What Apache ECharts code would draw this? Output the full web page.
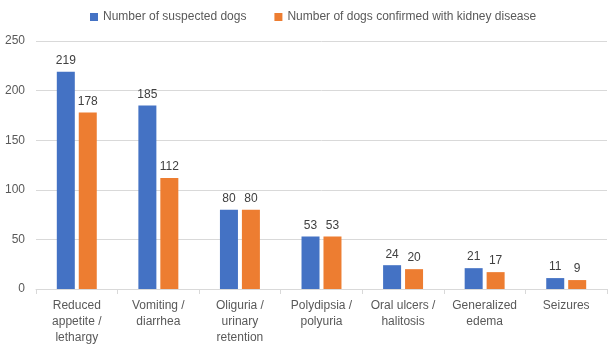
<!DOCTYPE html>
<html>
<head>
<meta charset="utf-8">
<script src="https://cdn.jsdelivr.net/npm/echarts@6/dist/echarts.min.js"></script>
<style>html,body{margin:0;padding:0;background:#fff}#main{width:611px;height:352px}</style>
</head>
<body>
<div id="main"></div>
<script>
// 分类和数据
var categories = ['Reduced\nappetite /\nlethargy', 'Vomiting /\ndiarrhea', 'Oliguria /\nurinary\nretention',
    'Polydipsia /\npolyuria', 'Oral ulcers /\nhalitosis', 'Generalized\nedema', 'Seizures'];
var suspected = [219, 185, 80, 53, 24, 21, 11];
var confirmed = [178, 112, 80, 53, 20, 17, 9];
var yTicks = [0, 50, 100, 150, 200, 250];

var myChart = echarts.init(document.getElementById('main'));
var font = 'Liberation Sans, Arial, sans-serif';
var option = {
    animation: false,
    textStyle: { fontFamily: font },
    legend: {
        top: 6,
        left: 85,
        itemWidth: 8,
        itemHeight: 8,
        itemGap: 28,
        icon: 'rect',
        textStyle: { color: '#595959', fontSize: 12, fontFamily: font },
        data: ['Number of suspected dogs', 'Number of dogs confirmed with kidney disease']
    },
    grid: { left: 36, right: 4, top: 41, bottom: 63, containLabel: false, outerBoundsMode: 'none' },
    xAxis: {
        type: 'category',
        data: categories,
        axisLine: { lineStyle: { color: '#D9D9D9' } },
        axisTick: { show: true, alignWithLabel: false, length: 5, lineStyle: { color: '#D9D9D9' } },
        axisLabel: { color: '#595959', fontSize: 12, lineHeight: 16, margin: 9, interval: 0, fontFamily: font }
    },
    yAxis: {
        type: 'value',
        min: yTicks[0],
        max: yTicks[yTicks.length - 1],
        interval: 50,
        axisLine: { show: false },
        axisTick: { show: false },
        splitLine: { lineStyle: { color: '#D9D9D9' } },
        axisLabel: { color: '#595959', fontSize: 12, margin: 11, fontFamily: font }
    },
    series: [{
        name: 'Number of suspected dogs',
        type: 'bar',
        data: suspected,
        barWidth: 18,
        barGap: '22%',
        itemStyle: { color: '#4472C4' },
        label: { show: true, position: 'top', color: '#404040', fontSize: 12, distance: 5 }
    }, {
        name: 'Number of dogs confirmed with kidney disease',
        type: 'bar',
        data: confirmed,
        barWidth: 18,
        itemStyle: { color: '#ED7D31' },
        label: { show: true, position: 'top', color: '#404040', fontSize: 12, distance: 5 }
    }]
};
myChart.setOption(option);
</script>
</body>
</html>
